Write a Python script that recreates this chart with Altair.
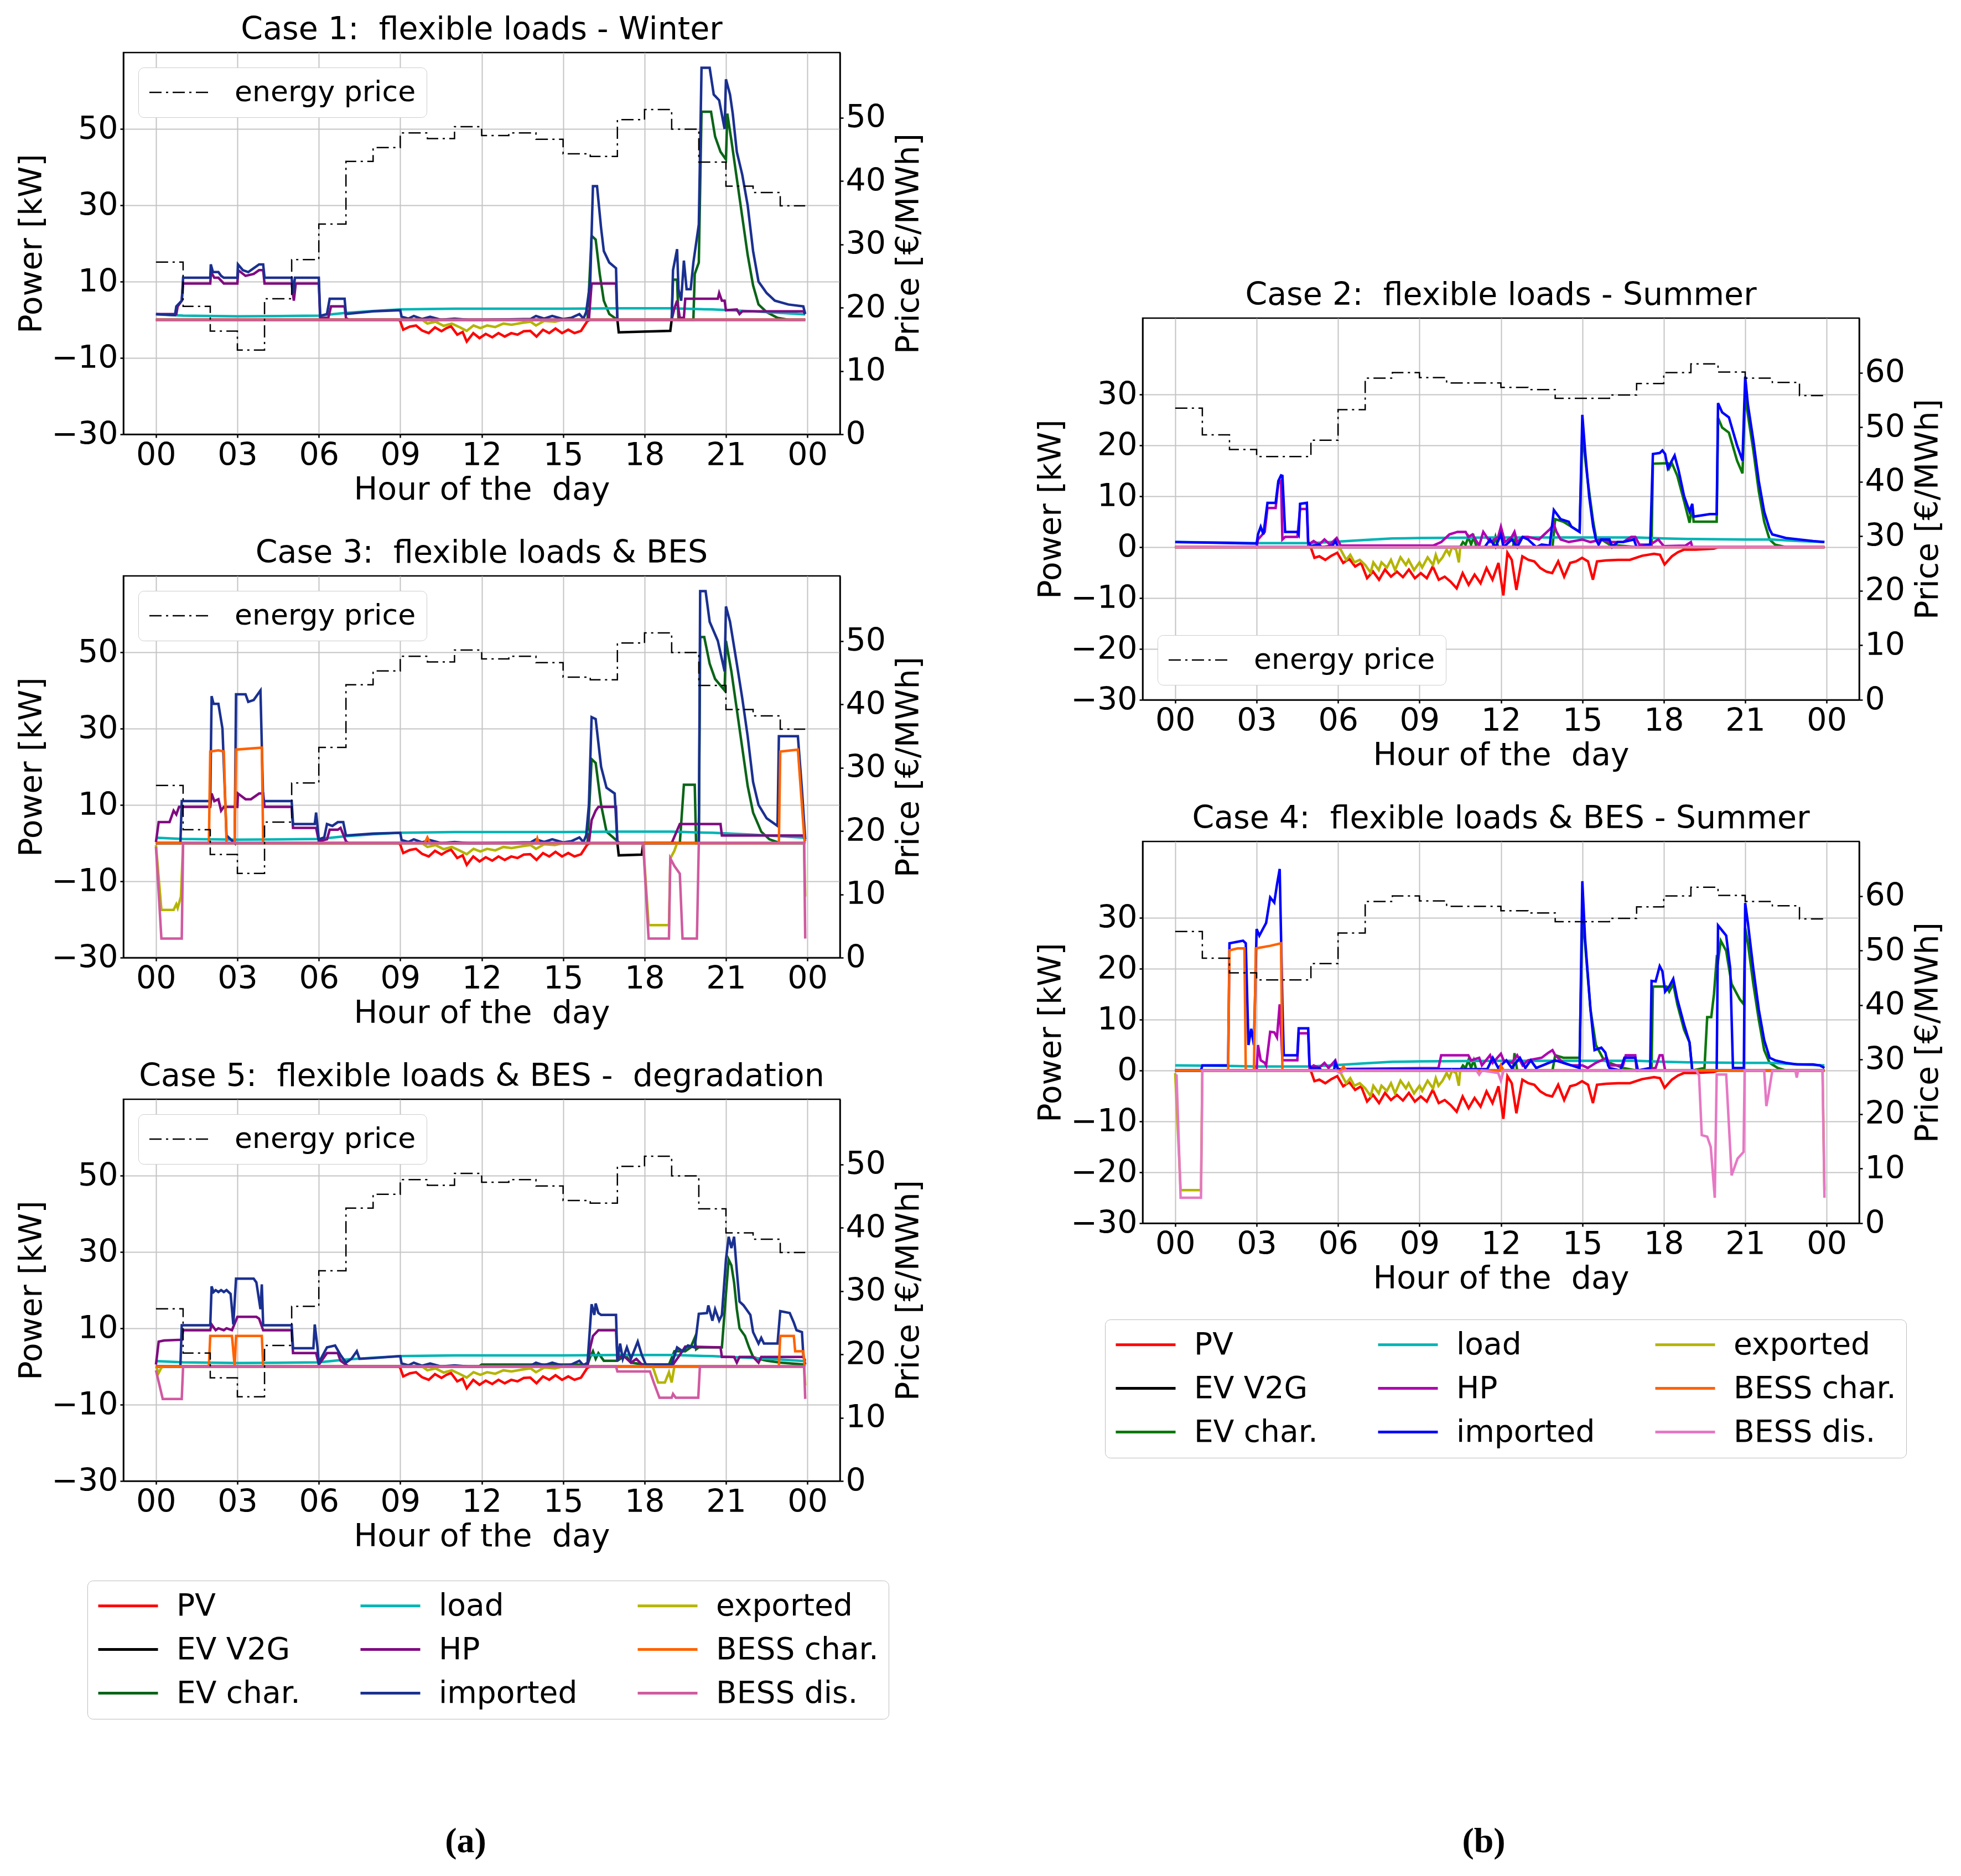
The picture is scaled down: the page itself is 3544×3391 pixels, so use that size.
import altair as alt
import pandas as pd

# ---------------------------------------------------------------- data
HOURS = list(range(24))
END = 23.92

WINTER_PRICE = [27.2, 20.2, 16.3, 13.3, 21.4, 27.6, 33.2, 43.1, 45.3, 47.6, 46.7, 48.6,
                47.2, 47.6, 46.6, 44.3, 43.9, 49.7, 51.3, 48.2, 43.0, 39.2, 38.2, 36.1]
SUMMER_PRICE = [53.5, 48.6, 45.9, 44.6, 44.6, 47.6, 53.2, 59.0, 60.0, 59.1, 58.1, 58.1,
                57.3, 56.9, 55.3, 55.3, 55.9, 58.0, 60.0, 61.6, 60.1, 59.0, 58.2, 55.8]

ZERO = [(0, 0), (END, 0)]

WINTER_PV = [(0, 0), (8.95, 0), (9.0, -0.4), (9.11, -2.6), (9.35, -1.8), (9.58, -1.5), (9.8, -2.8),
             (10.05, -3.5), (10.28, -2.0), (10.52, -3.0), (10.7, -2.2), (10.87, -1.7), (11.1, -3.9),
             (11.3, -3.2), (11.45, -5.7), (11.69, -3.5), (11.92, -4.8), (12.15, -3.7), (12.39, -4.6),
             (12.62, -3.5), (12.85, -4.4), (13.09, -3.5), (13.32, -3.9), (13.55, -3.0), (13.79, -2.9),
             (14.02, -4.4), (14.26, -2.6), (14.49, -3.5), (14.72, -2.3), (14.96, -3.5), (15.19, -2.6),
             (15.42, -3.5), (15.66, -2.9), (15.89, -0.4), (16.0, 0), (END, 0)]
WINTER_LOAD = [(0, 1.4), (1, 1.1), (3, 0.9), (5, 1.0), (6, 1.1), (7, 1.8), (8, 2.3), (9, 2.7),
               (11, 2.9), (13, 2.9), (15, 2.9), (17, 3.0), (19, 3.0), (20.5, 2.7), (22, 2.2),
               (23, 1.8), (END, 1.4)]
WINTER_EXPORT_DAY = [(9.8, 0), (10.0, -1.0), (10.3, -0.5), (10.6, -1.6), (10.9, -1.0), (11.2, -2.0),
                     (11.45, -2.9), (11.7, -1.5), (11.95, -2.2), (12.2, -1.5), (12.5, -1.9),
                     (12.8, -1.0), (13.1, -1.3), (13.5, -0.8), (13.8, -0.5), (14.0, -1.5),
                     (14.3, -0.3), (14.7, -0.5), (15.0, 0)]
WINTER_IMPORT_DAY = [(9.05, 0.8), (9.3, 0.3), (9.5, 1.0), (9.8, 0.2), (10.1, 0.8), (10.5, 0),
                     (11.0, 0.3), (11.5, 0), (12.0, 0), (13.0, 0.1), (13.8, 0.2), (14.0, 1.0),
                     (14.3, 0.3), (14.6, 1.0), (15.0, 0.2), (15.3, 0.5), (15.6, 1.5), (15.75, 0.3)]

SUMMER_PV = [(0, 0), (4.95, 0), (5.0, -0.1), (5.13, -2.1), (5.31, -1.8), (5.53, -2.5), (5.75, -1.7),
             (5.97, -1.1), (6.19, -3.1), (6.41, -2.3), (6.63, -3.8), (6.85, -3.1), (7.07, -6.1),
             (7.29, -4.8), (7.51, -6.4), (7.73, -4.4), (7.95, -5.8), (8.17, -4.8), (8.39, -5.9),
             (8.61, -4.4), (8.83, -6.1), (9.05, -5.1), (9.27, -6.1), (9.49, -3.8), (9.71, -6.4),
             (9.93, -5.8), (10.15, -6.8), (10.37, -8.1), (10.59, -5.1), (10.81, -7.4), (11.03, -5.4),
             (11.25, -7.1), (11.47, -4.1), (11.69, -6.4), (11.91, -3.1), (12.09, -9.5), (12.24, -1.1),
             (12.40, -2.5), (12.57, -8.4), (12.79, -1.8), (13.01, -2.5), (13.23, -2.8), (13.45, -4.1),
             (13.67, -4.8), (13.89, -5.1), (14.11, -2.8), (14.33, -5.8), (14.55, -3.1), (14.77, -2.8),
             (14.99, -2.1), (15.21, -2.8), (15.39, -6.4), (15.54, -2.8), (15.87, -2.6), (16.31, -2.5),
             (16.75, -2.5), (17.20, -1.7), (17.64, -1.3), (17.86, -1.5), (18.03, -3.4), (18.30, -1.8),
             (18.52, -1.0), (18.74, -0.5), (19.18, -0.5), (19.84, -0.3), (20.01, 0), (END, 0)]
SUMMER_LOAD = [(0, 1.0), (2, 0.9), (3, 0.8), (5, 0.8), (6, 1.1), (7, 1.4), (8, 1.7), (9, 1.8),
               (12, 1.9), (15, 1.9), (17, 1.9), (18, 1.7), (19, 1.6), (21, 1.5), (22, 1.5),
               (23, 1.2), (END, 1.0)]
SUMMER_EXPORT_DAY = [(6.0, 0), (6.1, -0.5), (6.3, -2.5), (6.45, -1.5), (6.6, -3.0), (6.8, -2.5),
                     (7.0, -3.5), (7.2, -5.0), (7.3, -3.0), (7.5, -4.5), (7.6, -3.0), (7.8, -4.0),
                     (7.95, -2.5), (8.1, -4.5), (8.3, -2.0), (8.5, -3.5), (8.6, -2.5), (8.8, -4.5),
                     (9.0, -3.0), (9.1, -4.0), (9.3, -2.0), (9.5, -3.5), (9.6, -1.5), (9.7, -3.0),
                     (9.85, -2.0), (10.0, -0.5), (10.1, -1.5), (10.2, 0), (10.35, -0.5),
                     (10.45, -3.0), (10.5, 0)]

# Case 1
C1_EV_V2G = [(0, 0), (17.0, 0), (17.05, -3.3), (18.95, -2.9), (19.0, 0), (END, 0)]
C1_EV_CHAR = [(0, 0), (15.9, 0), (16.05, 22.0), (16.2, 21.0), (16.35, 12.0), (16.5, 5.0), (16.7, 1.5),
              (17.0, 0), (19.0, 0), (19.05, 10.5), (19.2, 10.5), (19.25, 0), (19.8, 0), (19.85, 12.0),
              (20.0, 15.0), (20.1, 54.5), (20.45, 54.5), (20.6, 48.0), (20.8, 44.0), (21.0, 42.0),
              (21.05, 54.0), (21.2, 47.0), (21.4, 37.0), (21.6, 27.0), (21.8, 17.0), (22.0, 9.0),
              (22.2, 4.0), (22.5, 2.0), (22.9, 0.5), (23.3, 0), (END, 0)]
C1_HP = [(0, 1.5), (0.75, 1.5), (0.8, 3.5), (0.95, 5.0), (1.0, 9.5), (2.0, 9.5), (2.03, 12.5),
         (2.15, 11.0), (2.3, 11.0), (2.5, 9.5), (3.0, 9.5), (3.03, 13.0), (3.3, 11.5), (3.6, 12.0),
         (3.8, 13.0), (3.95, 13.0), (4.0, 9.5), (5.0, 9.5), (5.08, 5.0), (5.15, 9.5), (6.0, 9.5),
         (6.05, 0.5), (6.35, 0.5), (6.45, 3.5), (6.95, 3.5), (7.0, 0.5), (7.1, 0), (15.95, 0),
         (16.05, 9.5), (16.95, 9.5), (17.0, 0), (19.0, 0), (19.1, 3.0), (19.2, 5.0), (19.3, 0.5),
         (19.45, 0.5), (19.5, 5.5), (20.7, 5.5), (20.75, 7.0), (20.85, 5.0), (20.95, 5.0),
         (21.0, 2.5), (21.4, 2.7), (21.5, 1.5), (21.6, 2.2), (23.85, 2.2), (END, 1.5)]
C1_IMPORTED = ([(0, 1.5), (0.7, 1.2), (0.75, 3.5), (0.95, 5.0), (1.0, 11.0), (2.0, 11.0), (2.02, 14.5),
                (2.1, 12.5), (2.3, 12.5), (2.4, 11.5), (2.5, 11.0), (3.0, 11.0), (3.02, 14.5),
                (3.2, 13.0), (3.4, 12.5), (3.6, 13.5), (3.8, 14.5), (3.95, 14.5), (4.0, 11.0),
                (5.0, 11.0), (5.05, 7.0), (5.12, 11.0), (6.0, 11.0), (6.05, 1.0), (6.3, 1.5),
                (6.4, 5.5), (6.95, 5.5), (7.0, 1.5), (8.0, 2.2), (9.0, 2.5)]
               + WINTER_IMPORT_DAY
               + [(15.85, 2.0), (16.0, 10.0), (16.1, 35.0), (16.25, 35.0), (16.4, 24.0), (16.5, 18.0),
                  (16.7, 15.0), (16.95, 13.5), (17.0, 0), (19.0, 0), (19.05, 13.0), (19.2, 18.5),
                  (19.25, 8.0), (19.35, 5.0), (19.45, 15.5), (19.55, 8.0), (19.7, 8.0), (19.8, 15.0),
                  (20.0, 25.0), (20.1, 66.0), (20.4, 66.0), (20.55, 59.0), (20.75, 57.5),
                  (20.95, 50.0), (21.0, 63.0), (21.15, 59.0), (21.25, 54.0), (21.4, 44.0),
                  (21.6, 38.0), (21.8, 30.0), (22.0, 18.0), (22.2, 10.0), (22.5, 7.0), (22.8, 5.0),
                  (23.3, 4.0), (23.85, 3.5), (END, 1.5)])
C1_EXPORTED = [(0, 0)] + WINTER_EXPORT_DAY + [(END, 0)]

# Case 3
C3_EV_V2G = [(0, 0), (17.0, 0), (17.05, -3.2), (17.9, -3.0), (17.95, 0), (END, 0)]
C3_EV_CHAR = [(0, 0), (15.9, 0), (16.05, 22.0), (16.2, 21.0), (16.4, 10.0), (16.6, 3.0), (17.0, 0.5),
              (17.1, 0), (19.3, 0), (19.45, 15.3), (19.85, 15.3), (19.9, 0), (20.0, 0), (20.05, 54.0),
              (20.2, 54.0), (20.4, 47.0), (20.6, 43.0), (20.95, 40.0), (21.0, 53.0), (21.2, 45.0),
              (21.4, 35.0), (21.6, 25.0), (21.8, 15.0), (22.0, 8.0), (22.3, 3.0), (22.6, 1.0),
              (23.0, 0), (END, 0)]
C3_HP = [(0, 0.3), (0.1, 5.5), (0.5, 5.5), (0.55, 6.5), (0.65, 8.5), (0.75, 7.5), (0.85, 9.5),
         (2.0, 9.5), (2.05, 13.0), (2.15, 11.0), (2.3, 11.5), (2.4, 8.5), (2.5, 9.5), (3.0, 9.5),
         (3.02, 13.0), (3.3, 11.5), (3.5, 11.5), (3.8, 13.0), (3.95, 13.0), (4.0, 9.5), (5.0, 9.5),
         (5.05, 4.0), (5.9, 4.0), (6.0, 0.5), (6.3, 1.0), (6.4, 3.5), (6.7, 3.5), (6.8, 4.0),
         (7.0, 0.5), (7.1, 0), (15.95, 0), (16.05, 6.0), (16.2, 8.5), (16.3, 9.5), (16.95, 9.5),
         (17.0, 0), (19.0, 0), (19.3, 5.0), (20.8, 5.0), (20.85, 2.0), (23.85, 2.0), (END, 0.5)]
C3_IMPORTED = ([(0, 0), (0.9, 0), (0.95, 11.0), (2.0, 11.0), (2.05, 38.5), (2.12, 36.5), (2.3, 36.5),
                (2.45, 30.0), (2.6, 2.0), (2.9, 0), (2.95, 39.0), (3.3, 39.0), (3.4, 37.0),
                (3.6, 37.5), (3.85, 40.0), (3.95, 11.0), (5.0, 11.0), (5.05, 5.0), (5.85, 5.0),
                (5.9, 8.0), (6.0, 1.0), (6.2, 1.5), (6.3, 5.0), (6.5, 4.5), (6.7, 5.5), (6.9, 5.5),
                (7.0, 2.0), (8.0, 2.5), (9.0, 2.7)]
               + WINTER_IMPORT_DAY
               + [(15.85, 2.0), (15.95, 10.0), (16.05, 33.0), (16.2, 32.5), (16.4, 20.0),
                  (16.6, 14.5), (16.9, 13.0), (17.0, 0), (20.0, 0), (20.05, 66.0), (20.25, 66.0),
                  (20.4, 58.0), (20.7, 53.0), (20.95, 45.0), (21.0, 62.0), (21.15, 58.0),
                  (21.4, 47.0), (21.6, 38.0), (21.8, 28.0), (22.0, 16.0), (22.2, 10.0), (22.5, 6.5),
                  (22.9, 4.5), (22.95, 28.0), (23.65, 28.0), (23.8, 14.0), (END, 1.0)])
C3_EXPORTED = ([(0, -0.5), (0.2, -17.5), (0.65, -17.5), (0.75, -16.0), (0.8, -17.0), (0.92, -14.0),
                (1.0, 0)] + WINTER_EXPORT_DAY
               + [(17.95, 0), (18.15, -21.5), (18.9, -21.5), (18.95, -4.0), (19.1, -2.0), (19.2, 0),
                  (23.88, 0), (END, -14.0)])
C3_BESS_CHAR = [(0, 0), (1.95, 0), (2.0, 24.0), (2.3, 24.3), (2.5, 24.0), (2.6, 0), (2.9, 0),
                (2.95, 24.5), (3.9, 25.0), (3.95, 0), (9.9, 0), (10.0, 1.5), (10.1, 0), (14.0, 0),
                (14.05, 1.2), (14.1, 0), (22.95, 0), (23.0, 24.0), (23.65, 24.5), (23.9, 0), (END, 0)]
C3_BESS_DIS = [(0, -1.0), (0.2, -25.0), (0.95, -25.0), (1.0, 0), (17.95, 0), (18.15, -25.0),
               (18.9, -25.0), (18.95, -4.0), (19.1, -6.0), (19.3, -8.0), (19.4, -25.0),
               (19.93, -25.0), (20.0, 0), (23.88, 0), (END, -25.0)]

# Case 5
C5_EV_CHAR = [(0, 0), (11.9, 0), (12.0, 0.5), (15.9, 0.5), (16.0, 2.5), (16.1, 4.0), (16.2, 2.0),
              (16.3, 3.5), (16.5, 1.5), (17.0, 1.5), (17.3, 3.0), (17.5, 1.0), (18.0, 0.5),
              (18.9, 0.5), (19.1, 4.0), (19.5, 4.0), (19.7, 5.0), (19.85, 7.5), (19.9, 4.5),
              (20.0, 5.0), (20.85, 5.0), (21.0, 19.0), (21.1, 28.0), (21.2, 26.5), (21.3, 22.0),
              (21.4, 15.0), (21.5, 10.0), (21.7, 8.0), (21.85, 5.0), (22.0, 2.5), (22.2, 2.0),
              (22.5, 1.5), (23.0, 1.0), (END, 0.5)]
C5_HP = [(0, 0.5), (0.1, 6.5), (0.3, 6.8), (0.95, 7.0), (1.0, 9.5), (2.0, 9.5), (2.05, 11.0),
         (2.2, 9.5), (2.3, 10.0), (2.5, 9.5), (2.6, 10.0), (2.8, 9.5), (3.0, 13.0), (3.7, 13.0),
         (3.8, 12.5), (3.95, 9.5), (5.0, 9.5), (5.05, 3.5), (5.9, 3.5), (6.0, 0.5), (6.3, 3.5),
         (6.7, 3.5), (6.8, 1.5), (7.0, 0.5), (7.1, 0), (15.9, 0), (16.0, 5.0), (16.1, 8.0),
         (16.3, 9.5), (16.95, 9.5), (17.0, 2.0), (17.2, 3.0), (17.5, 1.0), (17.7, 2.0), (17.9, 0.5),
         (18.0, 0), (19.0, 0), (19.3, 3.0), (19.5, 5.2), (20.8, 5.0), (20.85, 2.5), (21.3, 2.5),
         (21.4, 1.0), (21.5, 2.5), (22.0, 2.5), (22.2, 1.0), (22.3, 2.5), (23.85, 2.5), (END, 1.5)]
C5_IMPORTED = ([(0, 0), (0.9, 0), (0.95, 10.8), (2.0, 10.8), (2.05, 21.0), (2.12, 19.5), (2.2, 20.0),
                (2.3, 19.5), (2.4, 20.0), (2.5, 19.5), (2.6, 20.0), (2.75, 19.0), (2.85, 11.0),
                (2.95, 23.0), (3.6, 23.0), (3.7, 22.0), (3.85, 15.0), (3.9, 21.5), (3.95, 10.8),
                (5.0, 10.8), (5.05, 4.8), (5.8, 4.8), (5.85, 11.0), (5.95, 5.0), (6.0, 1.0),
                (6.3, 5.0), (6.6, 5.5), (6.8, 3.0), (7.0, 1.0), (7.2, 2.0), (7.4, 4.0), (7.5, 2.0),
                (8.0, 2.2), (9.0, 2.7)]
               + WINTER_IMPORT_DAY
               + [(15.9, 1.0), (16.05, 16.3), (16.15, 13.5), (16.2, 16.5), (16.3, 14.0),
                  (16.4, 13.5), (16.95, 13.5), (17.0, 1.5), (17.1, 6.0), (17.2, 2.0), (17.35, 5.0),
                  (17.5, 2.0), (17.75, 6.5), (17.9, 3.0), (18.05, 0.5), (19.0, 0.5), (19.2, 5.0),
                  (19.4, 4.0), (19.6, 5.5), (19.85, 5.0), (20.0, 13.8), (20.3, 14.0), (20.35, 16.0),
                  (20.5, 12.0), (20.6, 15.0), (20.75, 12.0), (20.85, 13.5), (21.0, 28.0),
                  (21.1, 34.0), (21.2, 31.0), (21.3, 34.0), (21.4, 25.0), (21.5, 17.0),
                  (21.65, 16.0), (21.75, 15.0), (21.9, 13.5), (22.0, 9.0), (22.2, 6.0), (22.3, 7.5),
                  (22.4, 6.0), (22.9, 6.0), (23.0, 14.5), (23.35, 14.0), (23.5, 11.5), (23.6, 9.5),
                  (23.8, 9.0), (23.85, 3.0), (END, 0.5)])
C5_EXPORTED = ([(0, 0), (0.1, -1.7), (0.2, -0.3), (0.3, 0)] + WINTER_EXPORT_DAY
               + [(18.3, 0), (18.5, -4.2), (18.75, -4.2), (18.9, -1.5), (19.0, -4.2), (19.1, 0),
                  (23.88, 0), (END, -5.0)])
C5_BESS_CHAR = [(0, 0), (1.95, 0), (2.0, 8.0), (2.8, 8.0), (2.9, 0), (2.95, 8.0), (3.9, 8.0),
                (3.95, 0), (22.95, 0), (23.0, 8.0), (23.5, 8.0), (23.55, 4.0), (23.85, 4.0),
                (23.9, 0), (END, 0)]
C5_BESS_DIS = [(0, -1.0), (0.25, -8.5), (0.95, -8.5), (1.0, 0), (16.95, 0), (17.0, -1.3),
               (18.2, -1.3), (18.35, -4.4), (18.55, -8.2), (19.0, -8.2), (19.05, -7.2),
               (19.15, -8.2), (19.98, -8.2), (20.04, 0), (23.88, 0), (END, -8.5)]

# Case 2
C2_EV_CHAR = [(0, 0), (10.5, 0), (10.6, 1.0), (10.7, 0.5), (10.8, 2.0), (10.9, 0.5), (11.0, 2.0),
              (11.1, 0), (11.7, 0), (11.8, 2.0), (11.9, 0), (12.45, 0), (12.5, 2.5), (12.6, 0),
              (13.9, 0), (14.0, 5.5), (14.3, 5.0), (14.6, 4.0), (14.9, 3.0), (15.0, 22.0),
              (15.05, 20.0), (15.2, 13.0), (15.4, 5.0), (15.5, 2.0), (15.7, 1.5), (16.0, 0.5),
              (17.0, 0), (17.55, 0), (17.6, 16.4), (18.15, 16.5), (18.2, 15.5), (18.3, 16.5),
              (18.5, 14.0), (18.75, 9.0), (18.95, 4.8), (19.05, 8.0), (19.1, 5.0), (19.95, 5.0),
              (20.0, 25.4), (20.15, 23.5), (20.4, 22.5), (20.7, 17.0), (20.9, 14.5), (21.0, 30.0),
              (21.1, 26.0), (21.3, 19.0), (21.5, 11.0), (21.7, 5.0), (21.9, 1.5), (22.1, 0.5),
              (22.5, 0), (END, 0)]
C2_HP = [(0, 0), (3.0, 0), (3.05, 1.5), (3.3, 3.0), (3.4, 7.7), (3.7, 7.7), (3.8, 12.5), (3.9, 13.0),
         (3.95, 1.5), (4.05, 2.0), (4.5, 2.0), (4.6, 7.5), (4.85, 7.5), (4.9, 0.5), (5.1, 1.2),
         (5.3, 0.5), (5.5, 1.5), (5.7, 0.5), (5.95, 1.8), (6.1, 0.3), (9.5, 0.3), (9.8, 1.0),
         (10.1, 2.5), (10.4, 3.0), (10.7, 3.0), (10.8, 2.0), (10.95, 2.5), (11.2, 0.3), (11.35, 3.0),
         (11.6, 1.0), (11.9, 2.0), (12.0, 4.0), (12.15, 1.0), (12.4, 2.0), (12.5, 3.0), (12.6, 1.0),
         (12.8, 2.0), (13.0, 2.0), (13.4, 1.5), (13.6, 2.5), (13.8, 3.5), (13.95, 4.5), (14.05, 3.0),
         (14.2, 1.5), (14.5, 1.0), (15.0, 1.5), (15.3, 1.0), (15.7, 1.5), (16.0, 1.0), (16.5, 1.0),
         (16.8, 2.0), (16.95, 2.0), (17.1, 0.5), (17.5, 0.5), (17.8, 1.5), (18.0, 0.2), (18.8, 0.3),
         (19.0, 1.0), (19.05, 0), (END, 0)]
C2_IMPORTED = [(0, 1.0), (3.0, 0.7), (3.05, 2.5), (3.15, 4.0), (3.25, 2.5), (3.4, 8.7), (3.7, 8.7),
               (3.8, 13.0), (3.9, 14.1), (3.95, 14.0), (4.05, 3.0), (4.5, 3.0), (4.55, 2.5),
               (4.6, 8.5), (4.85, 8.7), (4.9, 1.0), (5.0, 0.2), (5.3, 0.5), (5.4, 0), (5.8, 0.3),
               (5.9, 1.2), (6.0, 0), (11.4, 0), (11.6, 1.5), (11.8, 0), (12.0, 2.5), (12.1, 0),
               (12.4, 1.5), (12.6, 0), (12.8, 2.0), (13.0, 1.5), (13.3, 0), (13.5, 0.5), (13.8, 0.3),
               (13.95, 7.3), (14.2, 5.5), (14.5, 5.0), (14.6, 4.0), (14.9, 3.0), (15.0, 26.0),
               (15.1, 19.0), (15.25, 10.0), (15.4, 4.0), (15.5, 1.5), (15.6, 0.5), (15.7, 1.5),
               (16.0, 1.5), (16.1, 0), (16.3, 1.0), (16.5, 1.0), (16.9, 1.5), (17.0, 0), (17.5, 0.5),
               (17.6, 18.3), (17.85, 18.5), (17.95, 19.0), (18.05, 18.3), (18.15, 15.5), (18.3, 17.0),
               (18.4, 18.0), (18.55, 15.0), (18.75, 10.0), (18.95, 7.0), (19.05, 8.5), (19.1, 6.0),
               (19.7, 6.5), (19.95, 6.5), (20.0, 28.3), (20.15, 26.5), (20.4, 25.5), (20.7, 20.0),
               (20.9, 17.0), (21.0, 33.5), (21.1, 28.0), (21.3, 21.0), (21.5, 13.0), (21.7, 7.0),
               (21.9, 3.5), (22.0, 2.5), (22.5, 1.8), (23.0, 1.5), (23.5, 1.2), (END, 1.0)]
C2_EXPORTED = [(0, 0)] + SUMMER_EXPORT_DAY + [(END, 0)]

# Case 4
C4_EV_CHAR = [(0, 0), (10.5, 0), (10.6, 1.0), (10.7, 0.5), (10.8, 2.0), (10.9, 0.5), (11.0, 2.0),
              (11.1, 0), (12.45, 0), (12.5, 3.4), (12.6, 0), (13.9, 0), (14.0, 3.0), (14.3, 2.5),
              (14.9, 2.5), (15.0, 30.0), (15.1, 25.0), (15.3, 12.0), (15.5, 5.0), (15.8, 2.0),
              (16.0, 1.5), (16.5, 0.5), (17.0, 0), (17.55, 0), (17.6, 16.5), (18.1, 16.5),
              (18.2, 15.5), (18.35, 17.0), (18.5, 13.0), (18.75, 8.0), (18.95, 5.5), (19.05, 0),
              (19.5, 0.5), (19.6, 10.5), (19.75, 10.5), (19.85, 15.0), (19.95, 22.0), (20.0, 21.5),
              (20.1, 25.5), (20.3, 23.5), (20.5, 17.0), (20.8, 14.0), (20.95, 13.0), (21.0, 28.0),
              (21.1, 25.0), (21.3, 17.0), (21.5, 10.0), (21.7, 4.0), (21.9, 1.5), (22.2, 0.5),
              (22.5, 0), (END, 0)]
C4_HP = [(0, 0), (3.0, 0), (3.05, 5.0), (3.15, 2.0), (3.3, 1.5), (3.35, 1.0), (3.5, 7.6), (3.65, 7.5),
         (3.75, 6.5), (3.85, 13.0), (3.95, 2.0), (4.5, 2.0), (4.55, 7.3), (4.9, 7.3), (4.95, 0.3),
         (5.1, 1.0), (5.3, 0.5), (5.5, 1.5), (5.65, 0.5), (5.9, 2.0), (6.0, 0.3), (9.7, 0.5),
         (9.8, 3.0), (10.8, 3.0), (10.9, 2.0), (11.2, 2.5), (11.3, 1.0), (11.6, 3.0), (11.7, 1.5),
         (12.0, 3.3), (12.1, 2.0), (12.4, 1.5), (12.6, 3.0), (12.8, 1.0), (13.0, 2.0), (13.5, 2.5),
         (13.75, 3.5), (13.9, 4.0), (14.0, 3.0), (14.3, 1.5), (14.6, 1.0), (15.0, 1.0), (15.2, 0.5),
         (15.5, 1.5), (15.9, 2.5), (16.0, 1.0), (16.5, 1.0), (16.6, 3.0), (16.95, 3.0), (17.0, 0),
         (17.7, 0.5), (17.85, 3.0), (17.95, 3.0), (18.05, 0), (END, 0)]
C4_IMPORTED = [(0, 0), (0.95, 0), (1.0, 1.0), (1.95, 1.0), (2.0, 25.0), (2.3, 25.3), (2.5, 25.5),
               (2.6, 25.0), (2.7, 5.0), (2.8, 8.2), (2.9, 5.0), (3.0, 27.8), (3.1, 26.5), (3.2, 27.5),
               (3.35, 29.0), (3.5, 34.0), (3.65, 33.0), (3.75, 36.5), (3.85, 39.6), (3.95, 13.0),
               (4.0, 3.0), (4.5, 3.0), (4.55, 8.3), (4.9, 8.3), (4.95, 1.0), (5.0, 0.5), (5.3, 0.5),
               (5.4, 0), (5.85, 0), (5.9, 1.5), (6.0, 0.2), (11.5, 0.3), (11.7, 2.5), (11.9, 0.5),
               (12.2, 2.0), (12.4, 0.5), (12.7, 2.5), (12.9, 0.5), (13.1, 2.0), (13.3, 0.5),
               (14.0, 2.0), (14.9, 0.5), (15.0, 37.2), (15.1, 26.0), (15.3, 12.0), (15.45, 4.0),
               (15.7, 4.5), (15.85, 3.5), (15.95, 1.0), (16.0, 0.5), (16.4, 0), (16.55, 2.5),
               (16.95, 2.5), (17.05, 0), (17.5, 0.5), (17.55, 17.6), (17.7, 17.5), (17.85, 20.5),
               (17.95, 19.5), (18.05, 15.5), (18.2, 16.5), (18.35, 18.0), (18.5, 14.0), (18.75, 9.0),
               (18.95, 5.5), (19.05, 0), (19.95, 0), (20.0, 28.5), (20.15, 27.5), (20.3, 26.5),
               (20.45, 20.0), (20.55, 0.5), (20.95, 0.5), (21.0, 32.9), (21.1, 29.0), (21.3, 20.0),
               (21.5, 12.0), (21.7, 6.0), (21.9, 2.5), (22.1, 2.0), (22.5, 1.5), (22.9, 1.2),
               (23.5, 1.2), (23.75, 1.0), (END, 0.5)]
C4_EXPORTED = ([(0, -0.5), (0.2, -23.5), (0.95, -23.5), (1.0, 0)] + SUMMER_EXPORT_DAY
               + [(23.85, 0), (END, -23.5)])
C4_BESS_CHAR = [(0, 0), (1.95, 0), (2.0, 23.6), (2.3, 24.0), (2.55, 24.0), (2.6, 0), (2.9, 0),
                (2.97, 24.0), (3.5, 24.5), (3.9, 25.0), (3.95, 0), (6.1, 0), (6.2, 0.8), (6.3, 0),
                (11.95, 0), (12.0, 1.0), (12.1, 0), (END, 0)]
C4_BESS_DIS = [(0, -1.0), (0.05, -1.0), (0.2, -25.0), (0.95, -25.0), (1.0, 0), (5.9, 0), (6.1, -0.5),
               (6.2, 0), (11.1, 0), (11.2, -0.8), (11.3, 0), (11.9, -0.5), (12.0, -2.0), (12.1, 0),
               (19.2, 0), (19.3, -1.0), (19.4, -12.7), (19.6, -13.0), (19.73, -15.0), (19.88, -25.0),
               (19.95, -0.8), (20.3, -0.8), (20.5, -20.6), (20.72, -17.3), (20.94, -16.0),
               (20.98, 0), (21.7, 0), (21.78, -7.0), (21.86, -4.7), (22.0, 0), (22.85, 0),
               (22.9, -1.4), (22.95, 0), (23.85, 0), (END, -25.0)]

SERIES_ORDER = ["PV", "EV V2G", "EV char.", "load", "HP", "imported", "exported", "BESS char.", "BESS dis."]
COLORS_A = {"PV": "#ff0000", "EV V2G": "#000000", "EV char.": "#0a6418", "load": "#00b4b4",
            "HP": "#800a80", "imported": "#1a3090", "exported": "#b4b400", "BESS char.": "#ff6200",
            "BESS dis.": "#d05aa0"}
COLORS_B = {"PV": "#ff0000", "EV V2G": "#000000", "EV char.": "#0a780a", "load": "#00b4b4",
            "HP": "#b000b0", "imported": "#0000ff", "exported": "#b4b400", "BESS char.": "#ff6200",
            "BESS dis.": "#e678c4"}

# ---------------------------------------------------------------- layout
W, H = 1295, 690
GAP = 256
FONT = "DejaVu Sans"
PRICE_DASH = [22, 8, 4, 8]

X_AXIS = alt.Axis(values=list(range(0, 25, 3)), title="Hour of the\u00a0 day", grid=True,
                  labelExpr="(datum.value % 24 < 10 ? '0' : '') + (datum.value % 24)")


def frame(series):
    rows = []
    for name in SERIES_ORDER:
        for h, v in series[name]:
            rows.append({"hour": h, "kW": v, "series": name})
    return pd.DataFrame(rows)


# long horizontal stroke drawn from a small symbol, so the rows stay compact
def color_legend(lx, ly):
    return alt.Legend(orient="none", legendX=lx, legendY=ly, title=None, columns=3,
                      symbolType="M-2.7,0H2.7", symbolSize=1600, symbolStrokeWidth=5,
                      symbolOffset=28, labelOffset=60,
                      labelFontSize=55, labelFont=FONT, labelColor="black", labelLimit=1000,
                      columnPadding=98, rowPadding=23, padding=18,
                      strokeColor="#bbbbbb", cornerRadius=10, fillColor="white")


def price_legend(orient):
    return alt.Legend(orient=orient, offset=27, title=None,
                      symbolType="M-2.8,0H2.8", symbolSize=1600, symbolStrokeWidth=2.5,
                      symbolStrokeColor="black", symbolOffset=31, labelOffset=72,
                      labelFontSize=52, labelFont=FONT, labelColor="black", labelLimit=1000,
                      padding=19, strokeColor="#cccccc", cornerRadius=10, fillColor="white")


def panel(title, series, price, ydom, yticks, pdom, pticks, colors, legend, inner):
    x = alt.X("hour:Q", scale=alt.Scale(domain=[-1.2, 25.2], nice=False, zero=False), axis=X_AXIS)
    lines = alt.Chart(frame(series)).mark_line(strokeWidth=4.5).encode(
        x=x,
        y=alt.Y("kW:Q", scale=alt.Scale(domain=ydom, nice=False, zero=False),
                axis=alt.Axis(values=yticks, title="Power [kW]", grid=True)),
        color=alt.Color("series:N",
                        scale=alt.Scale(domain=SERIES_ORDER, range=[colors[s] for s in SERIES_ORDER]),
                        legend=legend),
    )
    pdf = pd.DataFrame({"hour": HOURS + [END], "price": price + [price[-1]],
                        "kind": ["energy price"] * 25})
    py = alt.Y("price:Q", scale=alt.Scale(domain=pdom, nice=False, zero=False),
               axis=alt.Axis(orient="right", values=pticks, title="Price [€/MWh]", grid=False,
                             titleAngle=270, titleBaseline="top", titlePadding=14))
    if inner:
        step = alt.Chart(pdf).mark_line(interpolate="step-after", color="black", strokeWidth=2.5).encode(
            x=x, y=py,
            strokeDash=alt.StrokeDash("kind:N", scale=alt.Scale(domain=["energy price"], range=[PRICE_DASH]),
                                      legend=price_legend(inner)))
    else:
        step = alt.Chart(pdf).mark_line(interpolate="step-after", color="black", strokeWidth=2.5,
                                        strokeDash=PRICE_DASH).encode(x=x, y=py)
    return alt.layer(lines, step).resolve_scale(y="independent").properties(
        width=W, height=H, title=alt.TitleParams(title, fontSize=57, font=FONT, fontWeight="normal",
                                                 color="black", offset=12))


def blank(text, height, dx=0):
    return alt.Chart(pd.DataFrame({"t": [text]})).mark_text(
        font="Liberation Serif", fontSize=64, fontWeight="bold", color="black", dx=dx
    ).encode(text="t:N").properties(width=W, height=height, view=alt.ViewBackground(strokeOpacity=0))


WY, WP = [-30, 70], [0, 60.3]
SY, SP = [-30, 45], [0, 70]
WT, WPT = [-30, -10, 10, 30, 50], [0, 10, 20, 30, 40, 50]
ST, SPT = [-30, -20, -10, 0, 10, 20, 30], [0, 10, 20, 30, 40, 50, 60]

leg_a = color_legend(-65, 2762)
leg_b = color_legend(-68, 2290)

p1 = panel("Case 1:\u00a0 flexible loads - Winter",
           {"PV": WINTER_PV, "EV V2G": C1_EV_V2G, "EV char.": C1_EV_CHAR, "load": WINTER_LOAD,
            "HP": C1_HP, "imported": C1_IMPORTED, "exported": C1_EXPORTED, "BESS char.": ZERO,
            "BESS dis.": ZERO},
           WINTER_PRICE, WY, WT, WP, WPT, COLORS_A, leg_a, "top-left")
p3 = panel("Case 3:\u00a0 flexible loads & BES",
           {"PV": WINTER_PV, "EV V2G": C3_EV_V2G, "EV char.": C3_EV_CHAR, "load": WINTER_LOAD,
            "HP": C3_HP, "imported": C3_IMPORTED, "exported": C3_EXPORTED, "BESS char.": C3_BESS_CHAR,
            "BESS dis.": C3_BESS_DIS},
           WINTER_PRICE, WY, WT, WP, WPT, COLORS_A, leg_a, "top-left")
p5 = panel("Case 5:\u00a0 flexible loads & BES -\u00a0 degradation",
           {"PV": WINTER_PV, "EV V2G": ZERO, "EV char.": C5_EV_CHAR, "load": WINTER_LOAD,
            "HP": C5_HP, "imported": C5_IMPORTED, "exported": C5_EXPORTED, "BESS char.": C5_BESS_CHAR,
            "BESS dis.": C5_BESS_DIS},
           WINTER_PRICE, WY, WT, WP, WPT, COLORS_A, leg_a, "top-left")
p2 = panel("Case 2:\u00a0 flexible loads - Summer",
           {"PV": SUMMER_PV, "EV V2G": ZERO, "EV char.": C2_EV_CHAR, "load": SUMMER_LOAD,
            "HP": C2_HP, "imported": C2_IMPORTED, "exported": C2_EXPORTED, "BESS char.": ZERO,
            "BESS dis.": ZERO},
           SUMMER_PRICE, SY, ST, SP, SPT, COLORS_B, leg_b, "bottom-left")
p4 = panel("Case 4:\u00a0 flexible loads & BES - Summer",
           {"PV": SUMMER_PV, "EV V2G": ZERO, "EV char.": C4_EV_CHAR, "load": SUMMER_LOAD,
            "HP": C4_HP, "imported": C4_IMPORTED, "exported": C4_EXPORTED, "BESS char.": C4_BESS_CHAR,
            "BESS dis.": C4_BESS_DIS},
           SUMMER_PRICE, SY, ST, SP, SPT, COLORS_B, leg_b, "")

col_a = alt.vconcat(p1, p3, p5, blank("(a)", 792, -29), spacing=GAP, bounds="flush").resolve_scale(
    strokeDash="independent")
col_b = alt.vconcat(blank("", 224), p2, p4, blank("(b)", 1724, -31), spacing=GAP,
                    bounds="flush").resolve_scale(strokeDash="independent")

# flush layout counts a nested column as zero-wide, so the gap includes the panel width
chart = alt.hconcat(col_a, col_b, spacing=W + 547, bounds="flush").resolve_scale(
    color="independent", strokeDash="independent"
).properties(
    padding={"left": 19, "top": 15, "right": 10, "bottom": 10}
).configure(
    font=FONT, background="white"
).configure_view(
    stroke="black", strokeWidth=2.5
).configure_axis(
    labelFont=FONT, titleFont=FONT, labelFontSize=57, titleFontSize=57, titleFontWeight="normal",
    labelColor="black", titleColor="black", tickColor="black", tickSize=6, tickWidth=2.5,
    domainColor="black", domainWidth=2.5, gridColor="#c4c4c4", gridWidth=2, labelPadding=4,
    titlePadding=6, labelFlush=False, labelOverlap=False
)

chart.save("out.html", embed_options={"renderer": "svg", "actions": False})
